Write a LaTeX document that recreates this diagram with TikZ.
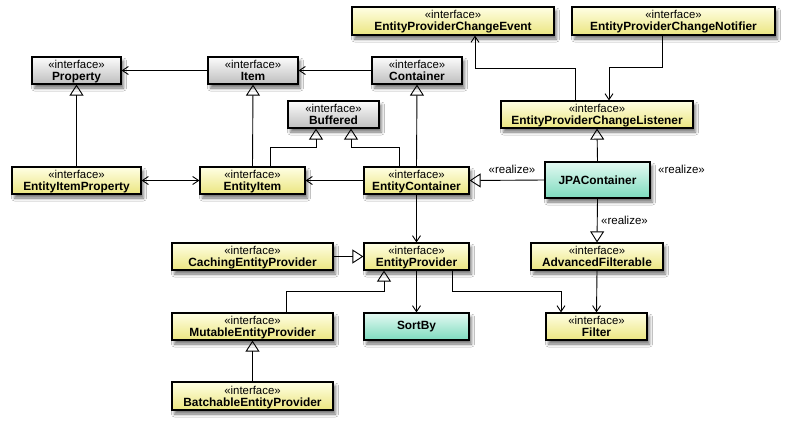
\documentclass[tikz,border=0pt]{standalone}
\usepackage{fontspec}
\setmainfont{Liberation Sans}
\usetikzlibrary{arrows.meta,shadows.blur}
\definecolor{ytop}{HTML}{FFFFE4}
\definecolor{ybot}{HTML}{EBE580}
\definecolor{gtop}{HTML}{FCFCFC}
\definecolor{gbot}{HTML}{BEBEBE}
\definecolor{ttop}{HTML}{E4F9F2}
\definecolor{tbot}{HTML}{7DDBBE}
\newcommand{\stereo}{\fontsize{11.4}{14.5}\selectfont\rule{0pt}{10.5pt}«interface»}
\newcommand{\cname}[1]{\fontsize{11.9}{14.5}\selectfont\bfseries #1\rule[-2pt]{0pt}{2pt}}
\newcommand{\iface}[1]{\stereo\\\cname{#1}}
\tikzset{
  box/.style={draw=black, line width=1.2pt, inner sep=0pt, align=center, minimum height=27pt,
    blur shadow={shadow xshift=2.5pt, shadow yshift=-4pt, shadow blur radius=3pt, shadow opacity=55}},
  ybox/.style={box, top color=ytop, bottom color=ybot},
  gbox/.style={box, top color=gtop, bottom color=gbot},
  tbox/.style={box, top color=ttop, bottom color=tbot, font=\fontsize{11.9}{14}\selectfont\bfseries},
  conn/.style={draw=black, line width=0.9pt},
  gen/.style={conn, -{Triangle[open, length=11pt, width=14pt, line width=0.9pt]}},
  assoc/.style={conn, -{Straight Barb[length=6pt, width=8pt, line width=0.9pt]}},
  bassoc/.style={conn, {Straight Barb[length=6pt, width=8pt, line width=0.9pt]}-{Straight Barb[length=6pt, width=8pt, line width=0.9pt]}},
  lbl/.style={inner sep=0pt, font=\fontsize{11.5}{14}\selectfont}
}
\begin{document}
\begin{tikzpicture}[x=1pt, y=-1pt]
\fill[white] (0,0) rectangle (786,426);
\useasboundingbox (0,0) rectangle (786,426);

% nodes
\node[ybox, minimum width=202pt, minimum height=28pt] (evt) at (453,21) {\iface{EntityProviderChangeEvent}};
\node[ybox, minimum width=203pt, minimum height=28pt] (notif) at (673.5,21) {\iface{EntityProviderChangeNotifier}};
\node[gbox, minimum width=89pt] (prop) at (76.5,70.5) {\iface{Property}};
\node[gbox, minimum width=90pt] (item) at (253,70.5) {\iface{Item}};
\node[gbox, minimum width=90pt] (cont) at (417,70.5) {\iface{Container}};
\node[gbox, minimum width=91pt] (buf) at (333.5,114.5) {\iface{Buffered}};
\node[ybox, minimum width=192pt] (lst) at (597,114.5) {\iface{EntityProviderChangeListener}};
\node[ybox, minimum width=129pt] (eip) at (76.5,180.5) {\iface{EntityItemProperty}};
\node[ybox, minimum width=105pt] (ei) at (252.5,180.5) {\iface{EntityItem}};
\node[ybox, minimum width=105pt] (ec) at (416.5,180.5) {\iface{EntityContainer}};
\node[tbox, minimum width=105pt, minimum height=36pt] (jpa) at (597.5,180) {JPAContainer};
\node[ybox, minimum width=161pt] (cep) at (252.5,256.5) {\iface{CachingEntityProvider}};
\node[ybox, minimum width=105pt] (ep) at (416.5,256.5) {\iface{EntityProvider}};
\node[ybox, minimum width=132pt] (af) at (597,256.5) {\iface{AdvancedFilterable}};
\node[ybox, minimum width=161pt] (mep) at (252.5,326.5) {\iface{MutableEntityProvider}};
\node[tbox, minimum width=105pt] (sort) at (416.5,326.5) {SortBy};
\node[ybox, minimum width=101pt] (filt) at (596.5,326.5) {\iface{Filter}};
\node[ybox, minimum width=161pt, minimum height=28pt] (bep) at (252.5,396) {\iface{BatchableEntityProvider}};

% labels
\node[lbl] (r1) at (512,169) {«realize»};
\node[lbl] (r2) at (681.5,169) {«realize»};
\node[lbl] (r3) at (624.5,220) {«realize»};

% connectors
\draw[assoc] (item.west) -- (prop.east);
\draw[assoc] (cont.west) -- (item.east);
\draw[gen] (eip.north) -- (prop.south);
\draw[gen] (ei.north) -- (item.south);
\draw[gen] ([xshift=17.5pt]ei.north) |- ([xshift=-17.5pt,yshift=-19pt]buf.south) -- ([xshift=-17.5pt]buf.south);
\draw[gen] ([xshift=-17.5pt]ec.north) |- ([xshift=17.5pt,yshift=-19pt]buf.south) -- ([xshift=17.5pt]buf.south);
\draw[gen] (ec.north) -- (cont.south);
\draw[assoc] (ec.west) -- (ei.east);
\draw[bassoc] (eip.east) -- (ei.west);
\draw[gen] (jpa.west) -- (ec.east);
\draw[gen] (jpa.north) -- (lst.south);
\draw[gen] (jpa.south) -- (af.north);
\draw[assoc] ([xshift=-22pt]lst.north) |- ([xshift=22pt,yshift=-33pt]evt.south) -- ([xshift=22pt]evt.south);
\draw[assoc] ([xshift=-11.5pt]notif.south) |- ([xshift=12pt,yshift=33pt]lst.north) -- ([xshift=12pt]lst.north);
\draw[assoc] (ec.south) -- (ep.north);
\draw[gen] (cep.east) -- (ep.west);
\draw[gen] ([xshift=33.5pt]mep.north) |- ([xshift=-32.5pt,yshift=-21pt]ep.south) -- ([xshift=-32.5pt]ep.south);
\draw[assoc] (ep.south) -- (sort.north);
\draw[assoc] ([xshift=35.5pt]ep.south) |- ([xshift=-35.5pt,yshift=21pt]filt.north) -- ([xshift=-35.5pt]filt.north);
\draw[assoc] (af.south) -- (filt.north);
\draw[gen] (bep.north) -- (mep.south);
\end{tikzpicture}
\end{document}
